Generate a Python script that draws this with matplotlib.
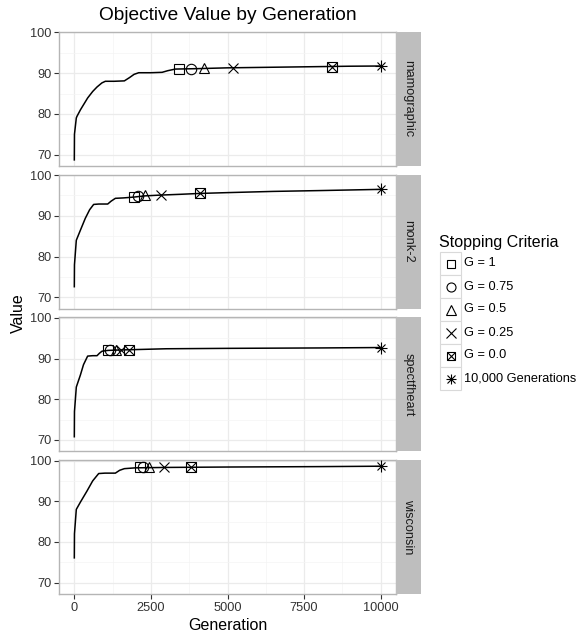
import numpy as np
import matplotlib.pyplot as plt
from matplotlib.patches import Rectangle

plt.rcParams['font.family'] = ['Liberation Sans', 'DejaVu Sans']

W, H = 577, 635

datasets = ['mamographic', 'monk-2', 'spectfheart', 'wisconsin']

# objective value curve per data set
curve_gen = {
    'mamographic': [0, 5, 65, 87, 200, 435, 600, 741, 900, 1013, 1300, 1634, 1800, 1950, 2102, 2500, 2866, 3050, 3300, 4000, 5000, 6000, 7000, 8000, 9000, 10000],
    'monk-2': [0, 5, 65, 200, 359, 500, 631, 800, 1090, 1200, 1340, 1600, 1939, 2300, 2832, 3500, 4096, 5000, 6500, 8000, 9000, 10000],
    'spectfheart': [0, 5, 65, 196, 300, 435, 600, 741, 820, 904, 1100, 1500, 2000, 3000, 5000, 8000, 10000],
    'wisconsin': [0, 5, 65, 200, 413, 600, 795, 1000, 1340, 1480, 1634, 2000, 3000, 5000, 8000, 10000],
}
curve_val = {
    'mamographic': [68.7, 75.0, 79.0, 79.4, 81.0, 83.9, 85.5, 86.6, 87.6, 88.0, 88.0, 88.1, 88.9, 89.7, 90.1, 90.1, 90.2, 90.6, 91.0, 91.1, 91.3, 91.4, 91.5, 91.6, 91.7, 91.75],
    'monk-2': [72.6, 78.0, 84.0, 86.5, 89.4, 91.5, 92.8, 92.9, 92.9, 93.6, 94.3, 94.4, 94.6, 94.9, 95.1, 95.3, 95.5, 95.7, 96.0, 96.2, 96.35, 96.5],
    'spectfheart': [70.8, 77.0, 83.0, 85.9, 88.5, 90.6, 90.7, 90.7, 91.3, 91.8, 92.0, 92.1, 92.2, 92.4, 92.5, 92.6, 92.7],
    'wisconsin': [76.1, 82.0, 88.0, 89.8, 92.5, 95.0, 96.8, 96.9, 96.9, 97.6, 98.0, 98.2, 98.3, 98.4, 98.5, 98.6],
}

criteria = ['G = 1', 'G = 0.75', 'G = 0.5', 'G = 0.25', 'G = 0.0', '10,000 Generations']
shapes = ['s', 'o', '^', 'x', 'boxx', 'ast']

stop_gen = {
    'mamographic': [3431, 3813, 4248, 5174, 8420, 10000],
    'monk-2': [1939, 2080, 2320, 2832, 4096, 10000],
    'spectfheart': [1090, 1176, 1362, 1525, 1797, 10000],
    'wisconsin': [2157, 2244, 2451, 2919, 3813, 10000],
}
stop_val = {
    'mamographic': [91.0, 91.0, 91.2, 91.3, 91.6, 91.75],
    'monk-2': [94.7, 94.8, 95.1, 95.1, 95.5, 96.5],
    'spectfheart': [92.0, 92.0, 92.2, 92.1, 92.1, 92.7],
    'wisconsin': [98.3, 98.3, 98.5, 98.4, 98.4, 98.6],
}

SMALL = 9.2
BASE = 11.5


def rect(left, top, width, height):
    return [left / W, 1 - (top + height) / H, width / W, height / H]


def draw_marker(ax, x, y, kind, ms=7.5):
    kw = dict(linestyle='none', mfc='none', mec='black', mew=0.8, zorder=4, clip_on=False)
    if kind == 'boxx':
        ax.plot(x, y, marker='s', ms=ms * 0.9, **kw)
        ax.plot(x, y, marker='x', ms=ms * 0.9, **kw)
    elif kind == 'ast':
        ax.plot(x, y, marker='+', ms=ms * 1.2, **kw)
        ax.plot(x, y, marker='x', ms=ms * 0.85, **kw)
    elif kind == 's':
        ax.plot(x, y, marker='s', ms=ms * 0.9, **kw)
    else:
        ax.plot(x, y, marker=kind, ms=ms, **kw)


fig = plt.figure(figsize=(W / 100, H / 100), dpi=100)

pan_left, pan_w, pan_h, gap = 59, 337, 134, 8.7
for i, name in enumerate(datasets):
    top = 32 + i * (pan_h + gap)
    ax = fig.add_axes(rect(pan_left, top, pan_w, pan_h))
    ax.set_xlim(-500, 10500)
    ax.set_ylim(67.2, 100.1)
    ax.set_xticks([0, 2500, 5000, 7500, 10000])
    ax.set_xticks([1250, 3750, 6250, 8750], minor=True)
    ax.set_yticks([70, 80, 90, 100])
    ax.set_yticks([75, 85, 95], minor=True)
    ax.grid(which='major', color='#EBEBEB', lw=0.9)
    ax.grid(which='minor', color='#F4F4F4', lw=0.5)
    ax.set_axisbelow(True)
    for s in ax.spines.values():
        s.set_color('#B5B5B5')
        s.set_linewidth(1.0)
    ax.tick_params(which='minor', length=0)
    ax.tick_params(which='major', length=3.5, width=0.8, color='#333333',
                   labelsize=SMALL, labelcolor='#333333', pad=2)
    if i < len(datasets) - 1:
        ax.tick_params(axis='x', which='both', bottom=False, labelbottom=False)

    ax.plot(curve_gen[name], curve_val[name], color='black', lw=1.1, zorder=3)
    for g, v, k in zip(stop_gen[name], stop_val[name], shapes):
        draw_marker(ax, g, v, k)

    strip = fig.add_axes(rect(pan_left + pan_w, top, 25, pan_h))
    strip.set_facecolor('#BEBEBE')
    strip.set_xticks([])
    strip.set_yticks([])
    for s in strip.spines.values():
        s.set_visible(False)
    strip.text(0.5, 0.5, name, rotation=-90, ha='center', va='center',
               fontsize=SMALL, color='#1A1A1A', transform=strip.transAxes)

fig.text(227.5 / W, 1 - 16 / H, 'Objective Value by Generation', ha='center', va='center', fontsize=BASE * 1.2)
fig.text(227.5 / W, 1 - 625 / H, 'Generation', ha='center', va='center', fontsize=BASE)
fig.text(18 / W, 1 - 313 / H, 'Value', ha='center', va='center', rotation=90, fontsize=BASE)

# legend drawn by hand in pixel coordinates
leg = fig.add_axes([0, 0, 1, 1])
leg.set_xlim(0, W)
leg.set_ylim(H, 0)
leg.axis('off')
leg.patch.set_alpha(0)
leg.text(439, 242, 'Stopping Criteria', ha='left', va='center', fontsize=BASE)
for j, (lab, k) in enumerate(zip(criteria, shapes)):
    top = 252 + j * 23
    leg.add_patch(Rectangle((440, top), 21, 23, fc='white', ec='#D9D9D9', lw=0.8))
    draw_marker(leg, 450.5, top + 11.5, k, ms=6.5)
    leg.text(464, top + 11.5, lab, ha='left', va='center', fontsize=SMALL)

fig.savefig('out.png', dpi=100)
